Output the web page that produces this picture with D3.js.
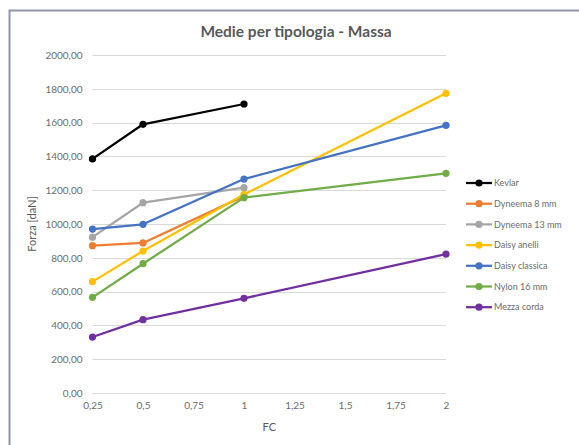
<!DOCTYPE html>
<html>
<head>
<meta charset="utf-8">
<script src="https://cdn.jsdelivr.net/npm/d3@7"></script>
<style>
  html, body { margin: 0; padding: 0; background: #ffffff; }
  svg { display: block; font-family: Lato, "Open Sans", sans-serif; }
</style>
</head>
<body>
<svg id="chart" width="579" height="445"></svg>
<script>
// FC values on the x axis
const fcValues = [0.25, 0.5, 1, 2];

// Series names, colours and mean force values [daN]
const seriesNames = ["Kevlar", "Dyneema 8 mm", "Dyneema 13 mm", "Daisy anelli", "Daisy classica", "Nylon 16 mm", "Mezza corda"];
const seriesColors = ["#000000", "#ED7D31", "#A5A5A5", "#FFC000", "#4472C4", "#70AD47", "#7030A0"];
const kevlar        = [1385, 1590, 1710, null];
const dyneema8      = [872, 888, 1165, null];
const dyneema13     = [922, 1126, 1215, null];
const daisyAnelli   = [659, 840, 1175, 1773];
const daisyClassica = [970, 998, 1266, 1584];
const nylon16       = [566, 765, 1156, 1300];
const mezzaCorda    = [331, 434, 560, 822];
const seriesValues = [kevlar, dyneema8, dyneema13, daisyAnelli, daisyClassica, nylon16, mezzaCorda];

// Axis ticks
const xTicks = [0.25, 0.5, 0.75, 1, 1.25, 1.5, 1.75, 2];
const yTicks = [0, 200, 400, 600, 800, 1000, 1200, 1400, 1600, 1800, 2000];

const svg = d3.select("#chart");
const textColor = "#595959";
const tickColor = "#6b6b6b";

// Outer chart frame
svg.append("rect")
  .attr("x", 9.5).attr("y", 10.5)
  .attr("width", 600).attr("height", 460)
  .attr("fill", "#ffffff")
  .attr("stroke", "#8f95aa").attr("stroke-width", 2);

const x = d3.scaleLinear().domain([0.25, 2]).range([92.5, 446]);
const y = d3.scaleLinear().domain([0, 2000]).range([393, 55]);

// Horizontal gridlines
svg.append("g")
  .selectAll("line")
  .data(yTicks)
  .join("line")
  .attr("x1", x(0.25)).attr("x2", x(2))
  .attr("y1", d => Math.round(y(d)) + 0.5).attr("y2", d => Math.round(y(d)) + 0.5)
  .attr("stroke", "#d9d9d9").attr("stroke-width", 1);

const fmt = d => d.toFixed(2).replace(".", ",");
const fmtX = d => String(d).replace(".", ",");

// Y axis labels
const yAxis = d3.axisLeft(y).tickValues(yTicks).tickFormat(fmt).tickSize(0).tickPadding(10);
const yg = svg.append("g").attr("transform", `translate(${x(0.25)},0)`).call(yAxis);
yg.select(".domain").remove();
yg.selectAll("text").attr("fill", tickColor).style("font-size", "10px").style("font-family", "Lato, 'Open Sans', sans-serif");

// X axis labels
const xAxis = d3.axisBottom(x).tickValues(xTicks).tickFormat(fmtX).tickSize(0).tickPadding(9);
const xg = svg.append("g").attr("transform", `translate(0,${y(0)})`).call(xAxis);
xg.select(".domain").remove();
xg.selectAll("text").attr("fill", tickColor).style("font-size", "10px").style("font-family", "Lato, 'Open Sans', sans-serif");

// Title and axis titles
svg.append("text")
  .attr("x", 296).attr("y", 37)
  .attr("text-anchor", "middle")
  .attr("fill", textColor)
  .style("font-size", "15.5px").style("font-weight", "bold")
  .text("Medie per tipologia - Massa");

svg.append("text")
  .attr("x", (x(0.25) + x(2)) / 2).attr("y", 431)
  .attr("text-anchor", "middle")
  .attr("fill", textColor)
  .style("font-size", "11px")
  .text("FC");

svg.append("text")
  .attr("transform", `translate(36,${(y(0) + y(2000)) / 2}) rotate(-90)`)
  .attr("text-anchor", "middle")
  .attr("fill", textColor)
  .style("font-size", "11px")
  .text("Forza [daN]");

// Series lines and markers
const line = d3.line()
  .defined(d => d.v !== null)
  .x(d => x(d.fc))
  .y(d => y(d.v));

seriesNames.forEach((name, i) => {
  const pts = fcValues.map((fc, j) => ({ fc, v: seriesValues[i][j] }));
  const g = svg.append("g");
  g.append("path")
    .datum(pts)
    .attr("d", line)
    .attr("fill", "none")
    .attr("stroke", seriesColors[i])
    .attr("stroke-width", 2.25)
    .attr("stroke-linejoin", "round");
  g.selectAll("circle")
    .data(pts.filter(d => d.v !== null))
    .join("circle")
    .attr("cx", d => x(d.fc)).attr("cy", d => y(d.v))
    .attr("r", 3.6)
    .attr("fill", seriesColors[i]);
});

// Legend
const legend = svg.append("g");
seriesNames.forEach((name, i) => {
  const ly = 183 + i * 20.7;
  legend.append("line")
    .attr("x1", 466).attr("x2", 492)
    .attr("y1", ly).attr("y2", ly)
    .attr("stroke", seriesColors[i]).attr("stroke-width", 2.25);
  legend.append("circle")
    .attr("cx", 479).attr("cy", ly).attr("r", 3.6)
    .attr("fill", seriesColors[i]);
  legend.append("text")
    .attr("x", 494).attr("y", ly + 3.2)
    .attr("fill", tickColor)
    .style("font-size", "9px")
    .text(name);
});
</script>
</body>
</html>
